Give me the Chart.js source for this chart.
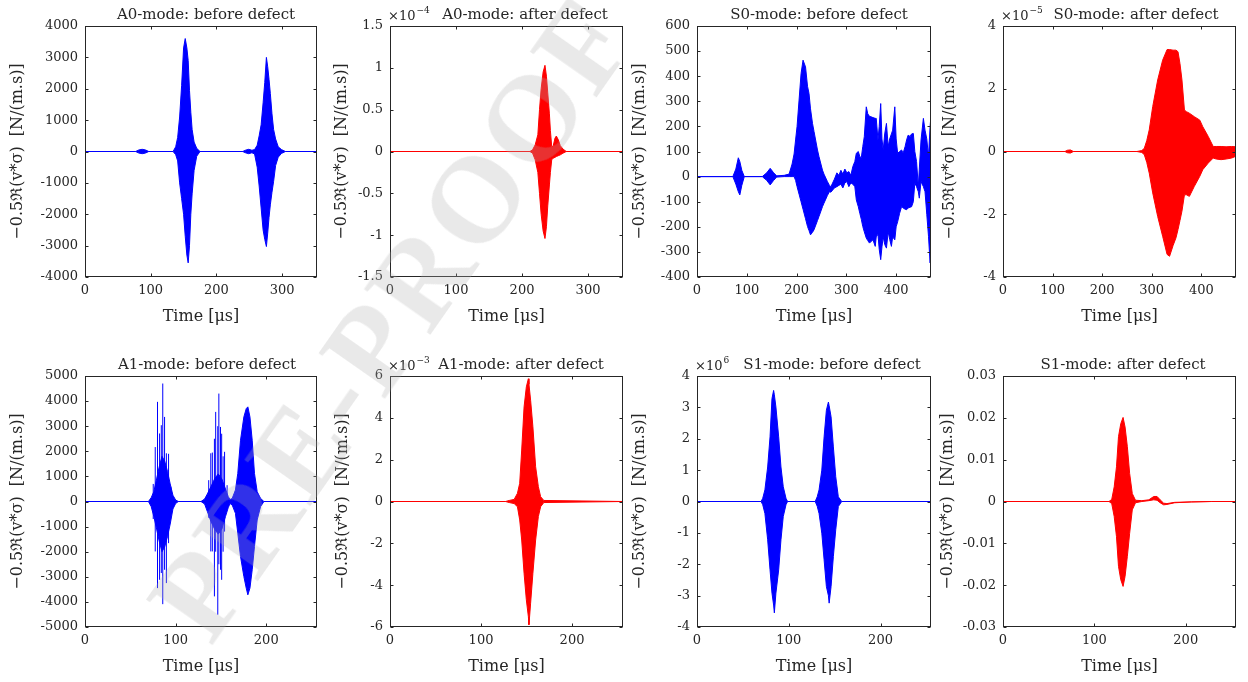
<!DOCTYPE html>
<html>
<head>
<meta charset="utf-8">
<title>Mode signals before and after defect</title>
<script src="https://cdn.jsdelivr.net/npm/chart.js@4.4.1/dist/chart.umd.min.js"></script>
<style>
  html, body { margin: 0; padding: 0; background: #fff; }
  #sheet { position: relative; width: 1248px; height: 682px; overflow: hidden; }
  #sheet canvas { position: absolute; }
  #stamp {
    position: absolute; left: 392px; top: 318px; z-index: 5;
    transform: translate(-50%, -50%) rotate(-55deg);
    font: bold 122px "Liberation Serif", serif; letter-spacing: 4px;
    color: rgba(175, 175, 175, 0.28); white-space: nowrap; pointer-events: none;
  }
</style>
</head>
<body>
<div id="sheet"><div id="stamp">PRE-PROOF</div></div>
<script>
// envelopes of each packet: time [µs], upper and lower edge of the oscillation
var a0BeforeTime = [0, 77, 82, 87, 92, 97, 134, 138, 141, 144, 147, 150, 152.5, 155, 157, 159, 161, 163, 166, 170, 175, 240, 244, 249, 254, 258, 262, 265, 268, 271, 273.5, 276, 278, 280, 282, 284.5, 287, 290, 294, 299, 305, 353];
var a0BeforeHigh = [0, 0, 50, 70, 50, 0, 0, 150, 450, 1100, 2100, 3300, 3600, 3300, 2900, 1950, 1250, 700, 300, 100, 0, 0, 40, 70, 40, 60, 200, 500, 850, 1550, 2200, 3000, 2700, 2300, 1850, 1200, 700, 400, 150, 60, 0, 0];
var a0BeforeLow = [0, 0, -50, -70, -50, 0, 0, -100, -300, -1000, -1500, -2000, -2700, -3300, -3550, -3000, -2000, -1350, -600, -150, 0, 0, -40, -70, -40, -80, -500, -1100, -1800, -2500, -2800, -3030, -2600, -2100, -1700, -1300, -950, -450, -180, -60, 0, 0];

var a0AfterTime = [0, 212, 216, 220, 224, 226.5, 229, 232, 234.8, 237, 239, 241.5, 243, 245, 247, 250, 252, 255, 258, 262, 267, 353];
var a0AfterHigh = [0, 0, 0.02, 0.08, 0.2, 0.5, 0.75, 0.95, 1.03, 0.9, 0.7, 0.45, 0.25, 0.06, 0.06, 0.16, 0.185, 0.14, 0.07, 0.03, 0, 0];
var a0AfterLow = [0, 0, -0.02, -0.1, -0.25, -0.5, -0.75, -0.95, -1.04, -0.9, -0.65, -0.4, -0.25, -0.1, -0.08, -0.07, -0.06, -0.05, -0.04, -0.02, 0, 0];

var s0BeforeTime = [0, 72, 78, 83, 86, 90, 95, 131, 140, 147, 154, 160,
  175, 185, 191, 195, 198, 201, 205, 209, 213, 218, 222, 225, 228, 232, 235, 242, 245, 252, 255, 262, 266, 269, 276,
  281, 285, 289, 293, 297, 301, 305, 309, 313,
  317, 320, 324, 327, 330, 333, 336, 340, 343, 346.5,
  350, 353.5, 358, 360, 363.5, 366, 369, 371.5, 374, 377,
  380.5, 384, 387, 390.5, 393, 397.3, 400, 403, 407, 411,
  414, 418, 421, 424, 428, 431, 434.5, 437.5, 441, 444.5,
  446.5, 450, 454.7, 458, 461.5, 465, 468.2, 470];
var s0BeforeHigh = [0, 0, 30, 75, 60, 25, 0, 0, 15, 33, 15, 3,
  5, 10, 50, 90, 146, 200, 305, 410, 464, 437, 360, 331, 270, 212, 180, 106, 80, 26, 10, -20, -35, -40, -10,
  15, 5, 25, 10, 30, 15, 20, 5, 40,
  60, 93, 100, 80, 75, 120, 159, 278, 250, 240,
  238, 235, 232, 232, 146, 200, 291, 150, 106, 170,
  212, 120, 150, 170, 185, 278, 150, 93, 100, 106,
  93, 120, 146, 165, 160, 170, 172, 100, 60, -40,
  30, 146, 232, 185, 150, 80, 200, 245];
var s0BeforeLow = [0, 0, -30, -60, -73, -35, 0, 0, -15, -33, -15, -2,
  0, 0, 0, 0, -15, -40, -70, -100, -130, -168, -199, -215, -232, -222, -212, -175, -159, -120, -106, -75, -60, -62, -45,
  -40, -35, -30, -45, -25, -20, -40, -25, -30,
  -40, -93, -120, -146, -170, -199, -220, -245, -255, -265,
  -258, -252, -278, -240, -230, -290, -331, -280, -240, -270,
  -285, -220, -250, -278, -240, -252, -200, -180, -146, -119,
  -125, -130, -132, -125, -122, -120, -100, -26, -40, -60,
  -86, -20, -40, -60, -150, -238, -344, -280];

var s0AfterTime = [0, 125, 130, 136, 142, 270, 280, 285, 290, 295, 302, 312, 322, 331, 336, 343, 349, 353, 357, 361, 366, 370, 376, 386, 397, 403, 414, 424, 430, 440, 450, 461, 470];
var s0AfterHigh = [0, 0, 0.04, 0.05, 0, 0, 0.03, 0.1, 0.35, 0.69, 1.43, 2.28, 2.91, 3.25, 3.25, 3.23, 3.23, 3.18, 2.8, 2.28, 1.32, 1.27, 1.22, 1.11, 1.0, 0.79, 0.48, 0.16, 0.16, 0.16, 0.15, 0.16, 0.15];
var s0AfterLow = [0, 0, -0.04, -0.05, 0, 0, -0.03, -0.1, -0.35, -0.69, -1.32, -2.07, -2.7, -3.28, -3.34, -3.0, -2.75, -2.49, -2.2, -1.9, -1.38, -1.38, -1.43, -1.11, -0.79, -0.58, -0.37, -0.21, -0.24, -0.26, -0.24, -0.21, -0.15];

var a1BeforeTime = [0, 70, 73, 76, 79, 82, 85, 88, 91, 94, 97, 100, 103, 128, 132, 135, 139, 143, 147, 151, 155, 158, 160, 162.4, 166, 168.6, 171.6, 175.3, 177.9, 179.7, 182, 184.5, 187, 190, 193.7, 197.4, 256];
var a1BeforeHigh = [0, 0, 150, 400, 900, 1400, 1800, 1600, 1200, 700, 250, 60, 0, 0, 100, 300, 600, 900, 1100, 900, 500, 200, 80, 120, 460, 1120, 2440, 3370, 3700, 3770, 3370, 2440, 1120, 390, 125, 0, 0];
var a1BeforeLow = [0, 0, -200, -600, -1100, -1600, -2000, -1800, -1400, -900, -300, -80, 0, 0, -100, -400, -800, -1100, -1300, -1100, -600, -250, -80, -140, -470, -1260, -2190, -2990, -3450, -3720, -3450, -2720, -1790, -735, -205, 0, 0];
// single strong cycles that stand out of the first two A1 packets
var a1BeforeSpikeTime = [75.3, 77.5, 80.0, 82.3, 84.2, 85.8, 87.8, 89.8, 92.2, 94.8, 136.5, 138.8, 140.5, 142.8, 144.2, 146.5, 147.7, 149.5, 150.8, 152.4, 154.0, 156.8];
var a1BeforeSpikeLow = [-700, -1990, -3450, -3120, -2850, -4090, -2720, -3250, -1660, -470, -650, -1990, -1990, -3780, -2000, -4510, -2500, -2720, -3120, -2000, -1200, -300];
var a1BeforeSpikeHigh = [700, 2170, 3970, 2710, 3040, 4700, 3370, 1920, 1900, 590, 850, 1920, 1950, 2500, 3570, 3000, 4300, 2970, 2700, 1800, 1980, 650];

var a1AfterTime = [0, 127, 131, 136.4, 140, 142.5, 144.7, 147.3, 149.8, 152, 152.7, 154.5, 157, 160, 163, 165.5, 169, 256];
var a1AfterHigh = [0, 0, 0.05, 0.1, 0.39, 0.87, 2.46, 4.52, 5.48, 5.87, 5.6, 4.84, 3.57, 1.66, 0.71, 0.23, 0.05, 0];
var a1AfterLow = [0, 0, -0.05, -0.1, -0.25, -0.88, -1.84, -3.43, -4.7, -5.5, -5.89, -4.86, -3.43, -1.84, -0.72, -0.25, -0.05, 0];

var s1BeforeTime = [0, 69.8, 71.6, 74, 77, 79.6, 81.7, 83.5, 84.3, 86, 89, 91.5, 94, 97, 98.7, 128.8, 131, 133, 136, 138.5, 141, 143.2, 144, 146.1, 148.6, 151.2, 154, 157.7, 255];
var s1BeforeHigh = [0, 0, 0.1, 0.37, 1.1, 2.06, 3.28, 3.54, 3.4, 3.01, 2.06, 1.1, 0.47, 0.1, 0, 0, 0.15, 0.37, 1.0, 2.06, 2.91, 3.17, 3.05, 2.7, 1.74, 0.79, 0.15, 0, 0];
var s1BeforeLow = [0, 0, -0.1, -0.38, -1.22, -2.18, -2.92, -3.3, -3.55, -2.92, -2.18, -1.22, -0.48, -0.1, 0, 0, -0.15, -0.38, -1.01, -1.86, -2.71, -3.0, -3.24, -2.71, -1.75, -0.9, -0.16, 0, 0];

var s1AfterTime = [0, 116, 119, 121.7, 124.2, 126.4, 128.9, 131.4, 133.6, 136.1, 138.6, 141.5, 145, 152, 159.6, 165, 168.6, 172, 175.8, 179.4, 188, 206, 228, 255];
var s1AfterHigh = [0, 0, 0.0005, 0.0035, 0.0083, 0.0155, 0.0186, 0.0201, 0.0178, 0.0131, 0.0067, 0.0019, 0.0003, 0.0002, 0.0004, 0.0012, 0.0012, 0.0004, -0.0004, -0.0005, -0.0002, -0.0001, 0, 0];
var s1AfterLow = [0, 0, -0.0005, -0.0036, -0.0084, -0.0155, -0.0187, -0.0203, -0.0179, -0.0131, -0.0076, -0.002, -0.0003, 0, 0.0002, 0.0004, 0.0003, -0.0003, -0.0008, -0.0007, -0.0003, -0.0001, 0, 0];

// axis ticks
var a0BeforeYTicks = [-4000, -3000, -2000, -1000, 0, 1000, 2000, 3000, 4000];
var a0AfterYTicks = [-1.5, -1, -0.5, 0, 0.5, 1, 1.5];
var s0BeforeYTicks = [-400, -300, -200, -100, 0, 100, 200, 300, 400, 500, 600];
var s0AfterYTicks = [-4, -2, 0, 2, 4];
var a1BeforeYTicks = [-5000, -4000, -3000, -2000, -1000, 0, 1000, 2000, 3000, 4000, 5000];
var a1AfterYTicks = [-6, -4, -2, 0, 2, 4, 6];
var s1BeforeYTicks = [-4, -3, -2, -1, 0, 1, 2, 3, 4];
var s1AfterYTicks = [-0.03, -0.02, -0.01, 0, 0.01, 0.02, 0.03];
var timeTicksA0 = [0, 100, 200, 300];
var timeTicksS0 = [0, 100, 200, 300, 400];
var timeTicksMode1 = [0, 100, 200];

var panelTitles = ['A0-mode: before defect', 'A0-mode: after defect', 'S0-mode: before defect', 'S0-mode: after defect',
  'A1-mode: before defect', 'A1-mode: after defect', 'S1-mode: before defect', 'S1-mode: after defect'];
var yExponents = ['', '\u22124', '', '\u22125', '', '\u22123', '6', ''];
var yAxisLabel = '\u22120.5\u211C(v*\u03C3)  [N/(m.s)]';
var xAxisLabel = 'Time [\u03BCs]';

var BLUE = '#0000ff', RED = '#ff0000', INK = '#262626';
var FONT = 'DejaVu Serif';

// box = canvas [left, top, right, bottom], plot = axes [left, top, right, bottom]
var panels = [
  { time: a0BeforeTime, high: a0BeforeHigh, low: a0BeforeLow, color: BLUE, yTicks: a0BeforeYTicks, xMax: 353, xTicks: timeTicksA0,
    box: [0, 0, 322, 340], plot: [85, 26, 317, 277], titleX: 206, yLabelX: 18, xLabelY: 317 },
  { time: a0AfterTime, high: a0AfterHigh, low: a0AfterLow, color: RED, yTicks: a0AfterYTicks, xMax: 353, xTicks: timeTicksA0,
    box: [322, 0, 628, 340], plot: [390, 26, 623, 277], titleX: 525, yLabelX: 342, xLabelY: 317 },
  { time: s0BeforeTime, high: s0BeforeHigh, low: s0BeforeLow, color: BLUE, yTicks: s0BeforeYTicks, xMax: 470, xTicks: timeTicksS0,
    box: [628, 0, 936, 340], plot: [697, 26, 931, 277], titleX: 819, yLabelX: 640, xLabelY: 317 },
  { time: s0AfterTime, high: s0AfterHigh, low: s0AfterLow, color: RED, yTicks: s0AfterYTicks, xMax: 470, xTicks: timeTicksS0,
    box: [936, 0, 1248, 340], plot: [1003, 26, 1236, 277], titleX: 1136, yLabelX: 950, xLabelY: 317 },
  { time: a1BeforeTime, high: a1BeforeHigh, low: a1BeforeLow, color: BLUE, yTicks: a1BeforeYTicks, xMax: 256, xTicks: timeTicksMode1,
    spikes: { time: a1BeforeSpikeTime, low: a1BeforeSpikeLow, high: a1BeforeSpikeHigh },
    box: [0, 340, 322, 682], plot: [85, 376, 317, 627], titleX: 207, yLabelX: 18, xLabelY: 667 },
  { time: a1AfterTime, high: a1AfterHigh, low: a1AfterLow, color: RED, yTicks: a1AfterYTicks, xMax: 256, xTicks: timeTicksMode1,
    box: [322, 340, 628, 682], plot: [390, 376, 623, 627], titleX: 521, yLabelX: 343, xLabelY: 667 },
  { time: s1BeforeTime, high: s1BeforeHigh, low: s1BeforeLow, color: BLUE, yTicks: s1BeforeYTicks, xMax: 255, xTicks: timeTicksMode1,
    box: [628, 340, 936, 682], plot: [697, 376, 931, 627], titleX: 832, yLabelX: 640, xLabelY: 667 },
  { time: s1AfterTime, high: s1AfterHigh, low: s1AfterLow, color: RED, yTicks: s1AfterYTicks, xMax: 255, xTicks: timeTicksMode1,
    box: [936, 340, 1248, 682], plot: [1003, 376, 1236, 627], titleX: 1123, yLabelX: 948, xLabelY: 667 }
];

// matlab-like box: frame, inward ticks on all four sides, title and exponent
var axesBox = {
  id: 'axesBox',
  afterDraw: function (chart, args, opts) {
    var ctx = chart.ctx, area = chart.chartArea;
    var xs = chart.scales.x, ys = chart.scales.y;
    var l = Math.round(area.left) + 0.5, r = Math.round(area.right) - 0.5;
    var t = Math.round(area.top) + 0.5, b = Math.round(area.bottom) - 0.5;
    ctx.save();
    ctx.strokeStyle = INK;
    ctx.lineWidth = 1;
    ctx.strokeRect(l, t, r - l, b - t);
    ctx.beginPath();
    xs.ticks.forEach(function (tk) {
      var px = Math.round(xs.getPixelForValue(tk.value)) + 0.5;
      ctx.moveTo(px, b); ctx.lineTo(px, b - 3);
      ctx.moveTo(px, t); ctx.lineTo(px, t + 3);
    });
    ys.ticks.forEach(function (tk) {
      var py = Math.round(ys.getPixelForValue(tk.value)) + 0.5;
      ctx.moveTo(l, py); ctx.lineTo(l + 3, py);
      ctx.moveTo(r, py); ctx.lineTo(r - 3, py);
    });
    ctx.stroke();

    ctx.fillStyle = INK;
    ctx.textBaseline = 'alphabetic';
    ctx.textAlign = 'center';
    ctx.font = '15px "' + FONT + '"';
    ctx.fillText(opts.title, opts.titleX, area.top - 7);

    if (opts.exponent) {
      var ex = area.left - 2;
      ctx.textAlign = 'left';
      ctx.font = '13px "' + FONT + '"';
      ctx.fillText('\u00D710', ex, area.top - 6);
      var w = ctx.measureText('\u00D710').width;
      ctx.font = '9px "' + FONT + '"';
      ctx.fillText(opts.exponent, ex + w + 1, area.top - 13);
    }
    ctx.restore();
  }
};

function toPoints(xs, ys) {
  return xs.map(function (x, i) { return { x: x, y: ys[i] }; });
}

function spikePoints(sp) {
  var pts = [];
  sp.time.forEach(function (t, i) {
    pts.push({ x: t, y: sp.low[i] }, { x: t, y: sp.high[i] }, { x: t, y: null });
  });
  return pts;
}

document.addEventListener('DOMContentLoaded', function () {
  var sheet = document.getElementById('sheet');

  panels.forEach(function (p, k) {
    var bx = p.box, pl = p.plot;
    var w = bx[2] - bx[0], h = bx[3] - bx[1];
    var canvas = document.createElement('canvas');
    canvas.width = w;
    canvas.height = h;
    canvas.style.left = bx[0] + 'px';
    canvas.style.top = bx[1] + 'px';
    canvas.style.width = w + 'px';
    canvas.style.height = h + 'px';
    sheet.insertBefore(canvas, document.getElementById('stamp'));

    var datasets = [
      { data: toPoints(p.time, p.high), borderColor: p.color, backgroundColor: p.color, borderWidth: 1, fill: '+1' },
      { data: toPoints(p.time, p.low), borderColor: p.color, backgroundColor: p.color, borderWidth: 1, fill: false }
    ];
    if (p.spikes) {
      datasets.push({ data: spikePoints(p.spikes), borderColor: p.color, borderWidth: 1, fill: false, spanGaps: false });
    }

    var labelHalf = 16 * 1.2 / 2;

    new Chart(canvas.getContext('2d'), {
      type: 'line',
      data: { datasets: datasets },
      options: {
        responsive: false,
        animation: false,
        events: [],
        elements: { point: { radius: 0 }, line: { tension: 0 } },
        layout: { padding: { left: 0, top: pl[1] - bx[1], right: bx[2] - pl[2], bottom: 0 } },
        plugins: {
          legend: { display: false },
          tooltip: { enabled: false },
          axesBox: { title: panelTitles[k], titleX: p.titleX - bx[0], exponent: yExponents[k] }
        },
        scales: {
          x: {
            type: 'linear',
            min: 0,
            max: p.xMax,
            afterBuildTicks: function (s) { s.ticks = p.xTicks.map(function (v) { return { value: v }; }); },
            afterFit: function (s) { s.height = bx[3] - pl[3]; },
            grid: { display: false, drawTicks: false },
            border: { display: false },
            ticks: { padding: 6, autoSkip: false, maxRotation: 0, color: INK, font: { family: FONT, size: 13 },
              callback: function (v) { return String(v); } },
            title: { display: true, text: xAxisLabel, color: INK, font: { family: FONT, size: 16 },
              padding: { top: 0, bottom: bx[3] - p.xLabelY - labelHalf } }
          },
          y: {
            type: 'linear',
            min: p.yTicks[0],
            max: p.yTicks[p.yTicks.length - 1],
            afterBuildTicks: function (s) { s.ticks = p.yTicks.map(function (v) { return { value: v }; }); },
            afterFit: function (s) { s.width = pl[0] - bx[0]; },
            grid: { display: false, drawTicks: false },
            border: { display: false },
            ticks: { padding: 7, autoSkip: false, color: INK, font: { family: FONT, size: 13 },
              callback: function (v) { return String(v); } },
            title: { display: true, text: yAxisLabel, color: INK, font: { family: FONT, size: 16 },
              padding: { top: p.yLabelX - bx[0] - labelHalf, bottom: 0 } }
          }
        }
      },
      plugins: [axesBox]
    });
  });
});
</script>
</body>
</html>
